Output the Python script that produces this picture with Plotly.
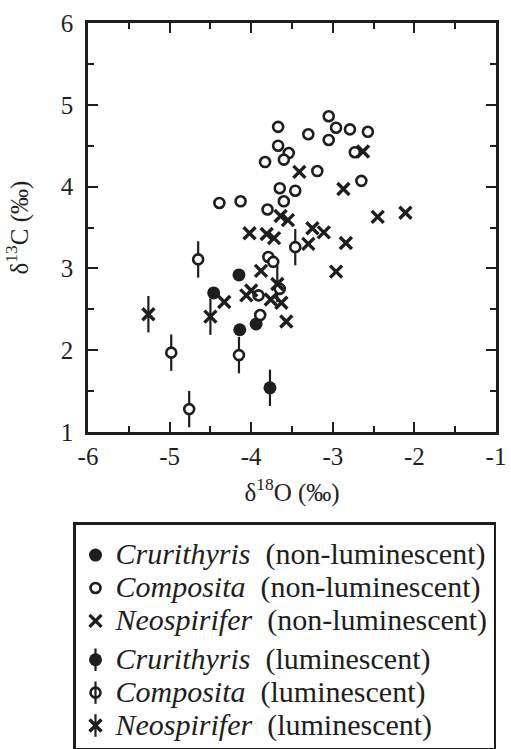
import plotly.graph_objects as go

# ---------------- data ----------------
cru_nl_x = [-4.15, -4.46, -4.14, -3.94]
cru_nl_y = [2.92, 2.70, 2.25, 2.32]
cru_l_x = [-3.77]
cru_l_y = [1.54]

com_nl_x = [-3.05, -3.67, -2.96, -2.79, -2.57, -3.30, -3.05, -3.67, -3.54, -3.60,
            -3.83, -2.73, -3.19, -2.65, -3.65, -3.46, -4.39, -4.13, -3.60, -3.80,
            -3.79, -3.73, -3.91, -3.89, -3.65]
com_nl_y = [4.86, 4.73, 4.72, 4.70, 4.67, 4.64, 4.57, 4.50, 4.41, 4.33,
            4.30, 4.42, 4.19, 4.07, 3.98, 3.95, 3.80, 3.82, 3.82, 3.72,
            3.14, 3.08, 2.67, 2.43, 2.75]
com_l_x = [-4.65, -3.46, -4.98, -4.15, -4.76]
com_l_y = [3.11, 3.26, 1.97, 1.94, 1.28]

neo_nl_x = [-2.63, -3.41, -2.87, -2.11, -2.45, -3.64, -3.55, -4.02, -3.81, -3.72,
            -3.25, -3.11, -3.30, -2.84, -2.96, -3.88, -4.00, -4.06, -4.33, -3.63,
            -3.57, -3.76]
neo_nl_y = [4.43, 4.18, 3.97, 3.68, 3.63, 3.64, 3.59, 3.43, 3.42, 3.37,
            3.49, 3.44, 3.30, 3.31, 2.96, 2.97, 2.73, 2.67, 2.59, 2.58,
            2.35, 2.62]
neo_l_x = [-5.26, -4.50, -3.68]
neo_l_y = [2.44, 2.41, 2.81]

x_tickvals = [-6, -5, -4, -3, -2, -1]
x_ticktext = ["-6", "-5", "-4", "-3", "-2", "-1"]
y_tickvals = [1, 2, 3, 4, 5, 6]
y_ticktext = ["1", "2", "3", "4", "5", "6"]

names = {
    "cru_nl": "<i>Crurithyris</i>\u00a0 (non-luminescent)",
    "com_nl": "<i>Composita</i>\u00a0 (non-luminescent)",
    "neo_nl": "<i>Neospirifer</i>\u00a0 (non-luminescent)",
    "cru_l": "<i>Crurithyris</i>\u00a0 (luminescent)",
    "com_l": "<i>Composita</i>\u00a0 (luminescent)",
    "neo_l": "<i>Neospirifer</i>\u00a0 (luminescent)",
}

INK = "#1e1e1e"
FONT = "Liberation Serif"
LEG_FS = 23
BIG = 30


def lbl(key):
    return '<span style="font-size:%dpx">%s</span>' % (BIG, names[key])


fig = go.Figure()

# vertical "luminescent" bars (drawn first, underneath), shown in overlay legend2
for key, xs, ys, rank in [("cru_l", cru_l_x, cru_l_y, 4),
                          ("com_l", com_l_x, com_l_y, 5),
                          ("neo_l", neo_l_x, neo_l_y, 6)]:
    fig.add_trace(go.Scatter(
        x=xs, y=ys, mode="markers", name=lbl(key), legend="legend2",
        legendgroup="l2", legendrank=rank,
        marker=dict(symbol="line-ns", size=26, line=dict(width=2.2, color=INK)),
        hoverinfo="skip"))
# invisible placeholders so overlay legend rows align
for key, xs, ys, rank in [("cru_nl", cru_nl_x, cru_nl_y, 1),
                          ("com_nl", com_nl_x, com_nl_y, 2),
                          ("neo_nl", neo_nl_x, neo_nl_y, 3)]:
    fig.add_trace(go.Scatter(
        x=xs, y=ys, mode="markers", name=lbl(key), legend="legend2",
        legendgroup="nl2", legendrank=rank,
        marker=dict(symbol="circle", size=1, color="rgba(0,0,0,0)",
                    line=dict(width=0)),
        hoverinfo="skip"))

filled = dict(symbol="circle", size=13, color=INK, line=dict(width=0))
opened = dict(symbol="circle", size=10, color="white", line=dict(width=2.6, color=INK))
cross = dict(symbol="x-thin", size=12, line=dict(width=3.4, color=INK))

for key, xs, ys, mk, grp, rank in [
        ("cru_nl", cru_nl_x, cru_nl_y, filled, "nl", 1),
        ("com_nl", com_nl_x, com_nl_y, opened, "nl", 2),
        ("neo_nl", neo_nl_x, neo_nl_y, cross, "nl", 3),
        ("cru_l", cru_l_x, cru_l_y, filled, "l", 4),
        ("com_l", com_l_x, com_l_y, opened, "l", 5),
        ("neo_l", neo_l_x, neo_l_y, cross, "l", 6)]:
    fig.add_trace(go.Scatter(
        x=xs, y=ys, mode="markers", name=lbl(key), legend="legend",
        legendgroup=grp, legendrank=rank, marker=mk))

axis_common = dict(
    showgrid=False, zeroline=False, showline=True, linecolor=INK, linewidth=2.5,
    mirror="ticks", ticks="inside", ticklen=10, tickwidth=2, tickcolor=INK,
    tickfont=dict(family=FONT, size=25, color=INK),
    minor=dict(ticks="inside", ticklen=6, tickwidth=1.5, tickcolor=INK, dtick=0.5),
)

fig.update_xaxes(range=[-6, -1], tickmode="array", tickvals=x_tickvals,
                 ticktext=x_ticktext,
                 title=dict(text="δ<sup>18</sup>O (‰)",
                            font=dict(family=FONT, size=25, color=INK), standoff=15),
                 **axis_common)
fig.update_yaxes(range=[1, 6], tickmode="array", tickvals=y_tickvals,
                 ticktext=y_ticktext, ticklabelstandoff=7,
                 title=dict(text="δ<sup>13</sup>C (‰)",
                            font=dict(family=FONT, size=25, color=INK), standoff=26),
                 **axis_common)

# plot area: x 88..496 px, y 23..432 px
leg_title = dict(text="\u00a0", font=dict(family=FONT, size=7))
leg_common = dict(
    xref="paper", yref="paper", x=(73 - 88) / 408, y=(432 - 522) / 409,
    xanchor="left", yanchor="top", borderwidth=2.5,
    tracegroupgap=6, itemclick=False, itemdoubleclick=False, title=leg_title,
)

fig.update_layout(
    width=511, height=749,
    margin=dict(l=88, r=15, t=23, b=317, autoexpand=False),
    paper_bgcolor="white", plot_bgcolor="white",
    showlegend=True,
    legend=dict(bgcolor="white", bordercolor=INK,
                font=dict(family=FONT, size=LEG_FS, color=INK), **leg_common),
    legend2=dict(bgcolor="rgba(0,0,0,0)", bordercolor="rgba(0,0,0,0)",
                 font=dict(family=FONT, size=LEG_FS, color="rgba(0,0,0,0)"),
                 **leg_common),
    font=dict(family=FONT, color=INK),
)

fig.write_html("out.html")
